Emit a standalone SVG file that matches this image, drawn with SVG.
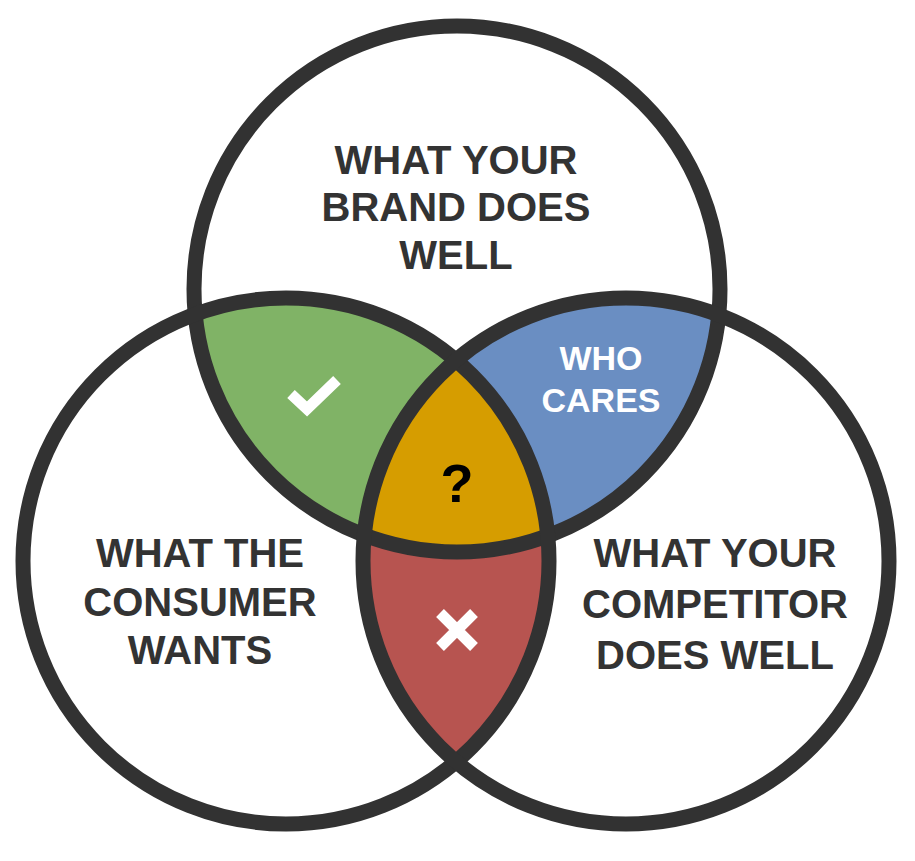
<svg xmlns="http://www.w3.org/2000/svg" width="915" height="861" viewBox="0 0 915 861">
  <style>
    .ring { fill: none; stroke: #323232; stroke-width: 15; }
    .lbl { font-family: "Liberation Sans", Arial, sans-serif; font-weight: bold; font-size: 40px; fill: #333333; text-anchor: middle; }
    .lblw { font-family: "Liberation Sans", Arial, sans-serif; font-weight: bold; font-size: 34px; fill: #ffffff; text-anchor: middle; }
    .mark { fill: none; stroke: #ffffff; stroke-width: 11; }
  </style>
  <defs>
    <clipPath id="cTop"><circle cx="457" cy="289" r="263"/></clipPath>
    <clipPath id="cLeft"><circle cx="286" cy="561" r="263"/></clipPath>
    <clipPath id="cRight"><circle cx="626" cy="561" r="263"/></clipPath>
  </defs>
  <rect x="0" y="0" width="915" height="861" fill="#ffffff"/>
  <g id="regions">
    <circle cx="286" cy="561" r="263" fill="#80B366" clip-path="url(#cTop)"/>
    <circle cx="626" cy="561" r="263" fill="#6A8EC2" clip-path="url(#cTop)"/>
    <circle cx="626" cy="561" r="263" fill="#B75450" clip-path="url(#cLeft)"/>
    <g clip-path="url(#cTop)">
      <circle cx="626" cy="561" r="263" fill="#D69D00" clip-path="url(#cLeft)"/>
    </g>
  </g>
  <g id="node-brand">
    <circle class="ring" cx="457" cy="289" r="263"/>
    <text class="lbl" x="456" y="174">WHAT YOUR</text>
    <text class="lbl" x="456" y="221">BRAND DOES</text>
    <text class="lbl" x="456" y="269">WELL</text>
  </g>
  <g id="node-consumer">
    <circle class="ring" cx="286" cy="561" r="263"/>
    <text class="lbl" x="200" y="567">WHAT THE</text>
    <text class="lbl" x="200" y="616">CONSUMER</text>
    <text class="lbl" x="200" y="664">WANTS</text>
  </g>
  <g id="node-competitor">
    <circle class="ring" cx="626" cy="561" r="263"/>
    <text class="lbl" x="715" y="567">WHAT YOUR</text>
    <text class="lbl" x="715" y="618">COMPETITOR</text>
    <text class="lbl" x="715" y="669">DOES WELL</text>
  </g>
  <g id="node-who-cares">
    <text class="lblw" x="601" y="370">WHO</text>
    <text class="lblw" x="601" y="412">CARES</text>
  </g>
  <g id="node-check">
    <polyline class="mark" points="291,394 307,409 337,380"/>
  </g>
  <g id="node-question">
    <text x="457" y="502" style="font-family: 'Liberation Sans', Arial, sans-serif; font-weight: bold; font-size: 54px; fill: #000000; text-anchor: middle;">?</text>
  </g>
  <g id="node-cross">
    <path class="mark" d="M440,613 L474,647 M474,613 L440,647"/>
  </g>
  <g id="connectors"></g>
</svg>
